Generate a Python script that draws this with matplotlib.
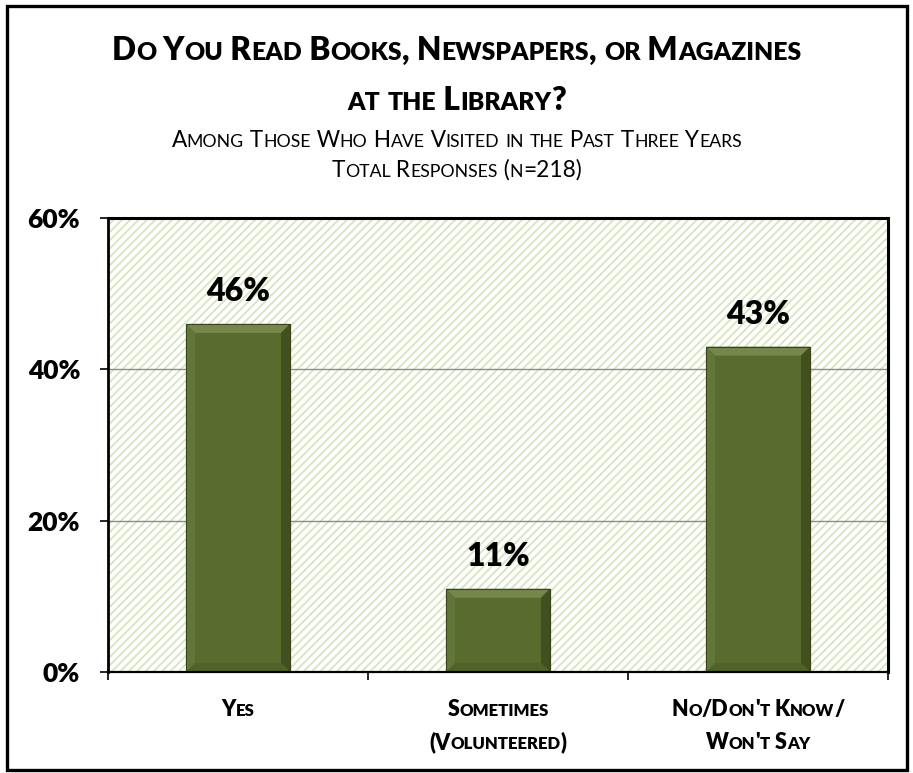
import matplotlib
matplotlib.use("Agg")
import matplotlib.pyplot as plt
from matplotlib.patches import Rectangle, Polygon

# ---- data ----
categories = ["Yes", "Sometimes\n(Volunteered)", "No/Don't Know/\nWon't Say"]
values = [46, 11, 43]
yticks = [0, 20, 40, 60]
ytick_labels = ["0%", "20%", "40%", "60%"]
title_lines = ["Do You Read Books, Newspapers, or Magazines", "at the Library?"]
subtitle_lines = ["Among Those Who Have Visited in the Past Three Years",
                  "Total Responses (n=218)"]

FONT = "Lato"
BOLD = "heavy"
W, H = 913, 773
DPI = 100
plt.rcParams["hatch.linewidth"] = 1.4

fig = plt.figure(figsize=(W / DPI, H / DPI), dpi=DPI)
fig.patch.set_facecolor("white")
renderer = fig.canvas.get_renderer()


def text_width(s, size, weight):
    """Pixel width of a string including edge spaces."""
    t1 = fig.text(0, 0, "|" + s + "|", fontsize=size, fontweight=weight, family=FONT)
    t2 = fig.text(0, 0, "||", fontsize=size, fontweight=weight, family=FONT)
    w = t1.get_window_extent(renderer).width - t2.get_window_extent(renderer).width
    t1.remove()
    t2.remove()
    return w


def small_caps(x_px, y_px, s, size, weight=BOLD, ratio=0.78):
    """Draw text in small caps centred at x_px with baseline at y_px (pixels from top)."""
    runs = []
    for ch in s:
        small = ch.islower()
        if runs and runs[-1][1] == small:
            runs[-1][0] += ch
        else:
            runs.append([ch, small])
    pieces = []
    total = 0.0
    for chunk, small in runs:
        sz = size * ratio if small else size
        txt = chunk.upper()
        w = text_width(txt, sz, weight)
        pieces.append((txt, sz, w))
        total += w
    x = x_px - total / 2
    for txt, sz, w in pieces:
        fig.text(x / W, 1 - y_px / H, txt, fontsize=sz, fontweight=weight,
                 family=FONT, ha="left", va="baseline")
        x += w


# ---- axes ----
ax_l, ax_r, ax_t, ax_b = 108, 888, 218, 672
ax = fig.add_axes([ax_l / W, 1 - ax_b / H, (ax_r - ax_l) / W, (ax_b - ax_t) / H])
ax.set_xlim(-0.5, len(categories) - 0.5)
ax.set_ylim(0, 60)
ax.set_facecolor("white")

# diagonal hatched plot-area background
ax.add_patch(Rectangle((0, 0), 1, 1, transform=ax.transAxes, facecolor="white",
                       edgecolor="#d9e5c2", hatch="////", linewidth=0, zorder=0))

for g in yticks[1:-1]:
    ax.axhline(g, color="#8c8c8c", linewidth=1.0, zorder=1)

xs = list(range(len(categories)))
bars = ax.bar(xs, values, width=0.4, color="#5a6b2e", edgecolor="#3a4419",
              linewidth=0.8, zorder=2)

# bevelled bar edges
bev = 9
inv = ax.transData.inverted()
for rect in bars:
    bb = rect.get_window_extent(renderer)
    x0, y0, x1, y1 = bb.x0, bb.y0, bb.x1, bb.y1
    faces = [
        ([(x0, y1), (x1, y1), (x1 - bev, y1 - bev), (x0 + bev, y1 - bev)], "#75874a"),
        ([(x0, y0), (x0, y1), (x0 + bev, y1 - bev), (x0 + bev, y0 + bev)], "#63763a"),
        ([(x1, y0), (x1, y1), (x1 - bev, y1 - bev), (x1 - bev, y0 + bev)], "#425020"),
        ([(x0, y0), (x1, y0), (x1 - bev, y0 + bev), (x0 + bev, y0 + bev)], "#526229"),
    ]
    for pts, col in faces:
        ax.add_patch(Polygon(inv.transform(pts), closed=True, facecolor=col,
                             edgecolor="none", zorder=3))
    ax.add_patch(Rectangle((rect.get_x(), 0), rect.get_width(), rect.get_height(),
                           facecolor="none", edgecolor="#3a4419", linewidth=0.8, zorder=4))

for x, v in zip(xs, values):
    ax.annotate(f"{v}%", (x, v), xytext=(0, 13), textcoords="offset points",
                ha="center", va="bottom", fontsize=23, fontweight=BOLD,
                family=FONT, zorder=5)

ax.set_yticks(yticks)
ax.set_yticklabels(ytick_labels, fontsize=19, fontweight=BOLD, family=FONT)
ax.set_xticks([-0.5, 0.5, 1.5, 2.5], minor=False)
ax.set_xticklabels([])
ax.tick_params(axis="y", direction="out", length=6, width=1.2, pad=14, colors="black")
ax.tick_params(axis="x", direction="out", length=6, width=1.2)

for side, lw in (("left", 2.0), ("top", 2.2), ("right", 2.2), ("bottom", 1.6)):
    ax.spines[side].set_linewidth(lw)
    ax.spines[side].set_color("black")
    ax.spines[side].set_zorder(6)

# ---- category labels (small caps) ----
fig.canvas.draw()
for x, cat in zip(xs, categories):
    cx = ax.transData.transform((x, 0))[0]
    for i, line in enumerate(cat.split("\n")):
        small_caps(cx, 716 + i * 33, line, 15.5)

# ---- titles ----
small_caps(W / 2, 60, title_lines[0], 22.8)
small_caps(W / 2, 110, title_lines[1], 22.8)
small_caps(W / 2, 147, subtitle_lines[0], 16.3, weight="normal")
small_caps(W / 2, 177, subtitle_lines[1], 16.3, weight="normal")

# outer frame
fig.add_artist(Rectangle((7 / W, 1 - 770 / H), (907 - 7) / W, (770 - 6) / H,
                         transform=fig.transFigure, facecolor="none",
                         edgecolor="black", linewidth=2.4))

fig.savefig("out.png", dpi=DPI)
